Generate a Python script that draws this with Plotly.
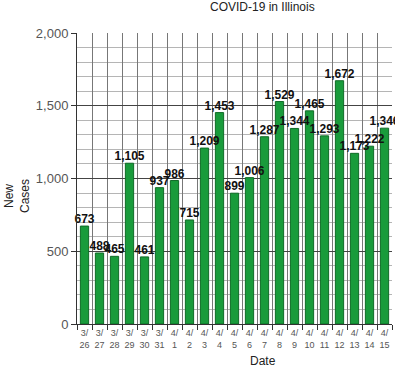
import plotly.graph_objects as go

dates = ["3/26", "3/27", "3/28", "3/29", "3/30", "3/31", "4/1", "4/2", "4/3", "4/4", "4/5",
         "4/6", "4/7", "4/8", "4/9", "4/10", "4/11", "4/12", "4/13", "4/14", "4/15"]
new_cases = [673, 488, 465, 1105, 461, 937, 986, 715, 1209, 1453, 899,
             1006, 1287, 1529, 1344, 1465, 1293, 1672, 1173, 1222, 1346]
tick_labels = [d.replace("/", "/<br>") for d in dates]
y_ticks = [0, 500, 1000, 1500, 2000]

fig = go.Figure()
fig.add_trace(go.Bar(
    x=dates, y=new_cases, width=0.55,
    marker=dict(color="#199b3b", line=dict(color="#0f6b27", width=1)),
    hoverinfo="x+y",
))
fig.add_trace(go.Scatter(
    x=dates, y=new_cases, mode="text",
    text=[f"{v:,}" for v in new_cases], textposition="top center",
    textfont=dict(family="Liberation Sans, Arial", size=12, color="#111"),
    texttemplate="<b>%{text}</b>", cliponaxis=False, hoverinfo="skip",
))

fig.update_layout(
    width=395, height=367,
    margin=dict(l=77, r=3, t=33, b=43, autoexpand=False),
    paper_bgcolor="white", plot_bgcolor="white",
    showlegend=False,
    font=dict(family="Liberation Sans, Arial", color="#444"),
    annotations=[
        dict(text="COVID-19 in Illinois", xref="paper", yref="paper",
             x=(262 - 77) / 315, y=1 + 26 / 291, showarrow=False,
             font=dict(size=12, color="#222"), xanchor="center", yanchor="middle"),
        dict(text="Date", xref="paper", yref="paper",
             x=(263 - 77) / 315, y=-37 / 291, showarrow=False,
             font=dict(size=12, color="#222"), xanchor="center", yanchor="middle"),
        dict(text="New<br>Cases", xref="paper", yref="paper",
             x=-60 / 315, y=(324 - 196) / 291, showarrow=False, textangle=-90,
             font=dict(size=12, color="#222"), xanchor="center", yanchor="middle"),
    ],
)
fig.update_xaxes(
    type="category", tickmode="array", tickvals=dates, ticktext=tick_labels,
    tickson="boundaries", ticks="outside", ticklen=5, tickcolor="#333",
    tickangle=0, automargin=False,
    showgrid=True, gridcolor="#777", gridwidth=1,
    tickfont=dict(size=9, color="#555"), range=[-0.5, 20.5],
    showline=True, linecolor="#333", linewidth=1,
)
fig.update_yaxes(
    range=[0, 2000], tickmode="array", tickvals=y_ticks,
    ticktext=[f"{v:,}" for v in y_ticks], automargin=False,
    ticks="outside", ticklen=5, tickcolor="#333",
    showgrid=True, gridcolor="#444", gridwidth=1,
    minor=dict(dtick=100, showgrid=True, gridcolor="#b5b5b5", gridwidth=1),
    tickfont=dict(size=13, color="#555"),
    showline=True, linecolor="#333", linewidth=1, zeroline=False,
)
fig.write_html(
    "out.html",
    config={"displayModeBar": False},
    post_script="document.body.style.margin='0';document.body.style.overflow='hidden';",
)
